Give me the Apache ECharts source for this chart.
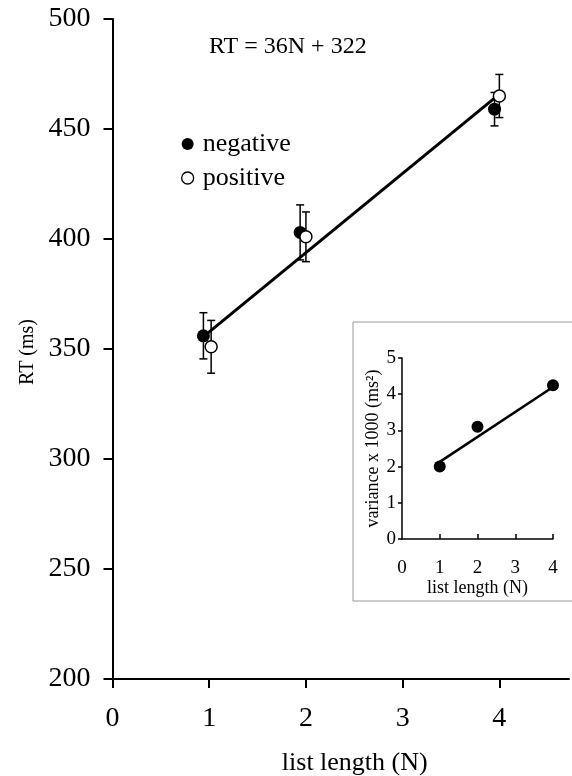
<!DOCTYPE html>
<html>
<head>
<meta charset="utf-8">
<script src="https://cdn.jsdelivr.net/npm/echarts@6/dist/echarts.min.js"></script>
<style>
html,body{margin:0;padding:0;background:#fff;}
#chart{width:572px;height:776px;}
</style>
</head>
<body>
<div id="chart"></div>
<script>
// ---- main panel data ----
const xTicks = [0, 1, 2, 3, 4];
const yTicks = [200, 250, 300, 350, 400, 450, 500];
const negX = [0.94, 1.94, 3.95];
const negRT = [356, 403, 459];
const negErr = [10.5, 12.5, 7.6];
const posX = [1.02, 2.0, 4.0];
const posRT = [351, 401, 465];
const posErr = [12, 11.3, 9.8];
const fitX = [0.95, 3.95];
const fitRT = [356, 464];
const equation = 'RT = 36N + 322';

// ---- inset data ----
const insetXTicks = [0, 1, 2, 3, 4];
const varN = [1, 2, 4];
const variance = [2.0, 3.1, 4.25];
const varFitX = [1, 4];
const varFitY = [2.13, 4.2];

const FONT = 'Liberation Serif';
const zip = (a, b) => a.map((v, i) => [v, b[i]]);
const zip3 = (a, b, c) => a.map((v, i) => [v, b[i], c[i]]);

function errRender(params, api) {
  const x = api.value(0), y = api.value(1), e = api.value(2);
  const t = api.coord([x, y + e]);
  const b = api.coord([x, y - e]);
  const w = 4;
  const st = { stroke: '#000', lineWidth: 1.5 };
  return {
    type: 'group',
    children: [
      { type: 'line', shape: { x1: t[0], y1: t[1], x2: b[0], y2: b[1] }, style: st },
      { type: 'line', shape: { x1: t[0] - w, y1: t[1], x2: t[0] + w, y2: t[1] }, style: st },
      { type: 'line', shape: { x1: b[0] - w, y1: b[1], x2: b[0] + w, y2: b[1] }, style: st }
    ]
  };
}

const chart = echarts.init(document.getElementById('chart'), null, { renderer: 'canvas' });

const axisLineStyle = { color: '#000', width: 2 };

chart.setOption({
  backgroundColor: '#fff',
  animation: false,
  title: {
    text: equation,
    left: 204, top: 30,
    textStyle: { fontFamily: FONT, fontSize: 24, fontWeight: 'normal', color: '#000' }
  },
  legend: {
    orient: 'vertical',
    left: 176, top: 126,
    itemWidth: 12, itemHeight: 12,
    itemGap: 8,
    icon: 'circle',
    textStyle: { fontFamily: FONT, fontSize: 26, color: '#000', padding: [0, 0, 0, 4] },
    data: [
      { name: 'negative', itemStyle: { color: '#000' } },
      { name: 'positive', itemStyle: { color: '#fff', borderColor: '#000', borderWidth: 1.3 } }
    ]
  },
  grid: [
    { left: 112.5, right: 3, top: 19, bottom: 97, containLabel: false, outerBoundsMode: 'none' },
    { left: 402, right: 19, top: 358, bottom: 237, containLabel: false, outerBoundsMode: 'none' }
  ],
  graphic: [
    {
      type: 'rect', z: -10,
      shape: { x: 353, y: 322, width: 240, height: 279 },
      style: { fill: 'transparent', stroke: '#999', lineWidth: 1 }
    }
  ],
  xAxis: [
    {
      gridIndex: 0, type: 'value', min: 0, max: 4.72, interval: 1,
      splitLine: { show: false },
      axisLine: { show: true, onZero: false, lineStyle: axisLineStyle },
      axisTick: { show: true, length: 9, inside: false, customValues: xTicks, lineStyle: { color: '#000', width: 2 } },
      axisLabel: { customValues: xTicks, margin: 26, fontFamily: FONT, fontSize: 28, color: '#000' },
      name: 'list length (N)', nameLocation: 'middle', nameGap: 71,
      nameTextStyle: { fontFamily: FONT, fontSize: 26, color: '#000', padding: [0, 0, 0, 28] }
    },
    {
      gridIndex: 1, type: 'value', min: 0, max: 4, interval: 1,
      splitLine: { show: false },
      axisLine: { show: true, onZero: false, lineStyle: { color: '#000', width: 1.5 } },
      axisTick: { show: true, length: 5, inside: true, customValues: [1, 2, 3, 4], lineStyle: { color: '#000', width: 1.5 } },
      axisLabel: { customValues: insetXTicks, margin: 20, fontFamily: FONT, fontSize: 19, color: '#000' },
      name: 'list length (N)', nameLocation: 'middle', nameGap: 37,
      nameTextStyle: { fontFamily: FONT, fontSize: 18, color: '#000' }
    }
  ],
  yAxis: [
    {
      gridIndex: 0, type: 'value', min: 200, max: 500, interval: 50,
      splitLine: { show: false },
      axisLine: { show: true, onZero: false, lineStyle: axisLineStyle },
      axisTick: { show: true, length: 9, inside: false, lineStyle: { color: '#000', width: 2 } },
      axisLabel: { customValues: yTicks, margin: 22, fontFamily: FONT, fontSize: 28, color: '#000' },
      name: 'RT (ms)', nameLocation: 'middle', nameGap: 64, nameRotate: 90,
      nameTextStyle: { fontFamily: FONT, fontSize: 20, color: '#000', padding: [0, 6, 0, 0] }
    },
    {
      gridIndex: 1, type: 'value', min: 0, max: 5, interval: 1,
      splitLine: { show: false },
      axisLine: { show: true, onZero: false, lineStyle: { color: '#000', width: 1.5 } },
      axisTick: { show: true, length: 4, inside: false, lineStyle: { color: '#000', width: 1.5 } },
      axisLabel: { margin: 6, fontFamily: FONT, fontSize: 19, color: '#000' },
      name: 'variance x 1000 (ms\u00B2)', nameLocation: 'middle', nameGap: 19, nameRotate: 90,
      nameTextStyle: { fontFamily: FONT, fontSize: 18, color: '#000' }
    }
  ],
  series: [
    {
      name: 'errNeg', type: 'custom', xAxisIndex: 0, yAxisIndex: 0, z: 2,
      renderItem: errRender, encode: { x: 0, y: 1 },
      data: zip3(negX, negRT, negErr)
    },
    {
      name: 'errPos', type: 'custom', xAxisIndex: 0, yAxisIndex: 0, z: 2,
      renderItem: errRender, encode: { x: 0, y: 1 },
      data: zip3(posX, posRT, posErr)
    },
    {
      name: 'negative', type: 'scatter', xAxisIndex: 0, yAxisIndex: 0, z: 3,
      symbol: 'circle', symbolSize: 13,
      itemStyle: { color: '#000', opacity: 1 },
      data: zip(negX, negRT)
    },
    {
      name: 'fit', type: 'line', xAxisIndex: 0, yAxisIndex: 0, z: 4,
      showSymbol: false, symbol: 'none',
      lineStyle: { color: '#000', width: 3 },
      data: zip(fitX, fitRT)
    },
    {
      name: 'positive', type: 'scatter', xAxisIndex: 0, yAxisIndex: 0, z: 5,
      symbol: 'circle', symbolSize: 12,
      itemStyle: { color: '#fff', borderColor: '#000', borderWidth: 1.5, opacity: 1 },
      data: zip(posX, posRT)
    },
    {
      name: 'varFit', type: 'line', xAxisIndex: 1, yAxisIndex: 1, z: 3,
      showSymbol: false, symbol: 'none',
      lineStyle: { color: '#000', width: 2.5 },
      data: zip(varFitX, varFitY)
    },
    {
      name: 'variance', type: 'scatter', xAxisIndex: 1, yAxisIndex: 1, z: 4,
      symbol: 'circle', symbolSize: 12,
      itemStyle: { color: '#000', opacity: 1 },
      data: zip(varN, variance)
    }
  ]
});
</script>
</body>
</html>
